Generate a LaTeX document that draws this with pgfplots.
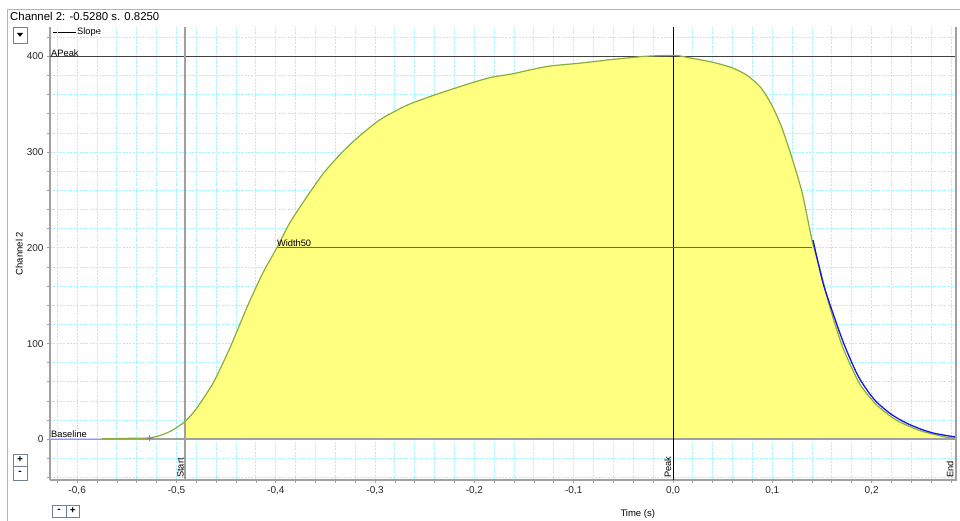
\documentclass[border=0pt]{standalone}
\usepackage{fontspec}
\setmainfont{Liberation Sans}
\usepackage{pgfplots}
\pgfplotsset{compat=1.18}
\definecolor{gridc}{HTML}{9EF6FF}
\definecolor{fillc}{HTML}{FFFF80}
\definecolor{curvec}{HTML}{88AE3A}
\definecolor{slopec}{HTML}{1414E6}
\definecolor{axc}{HTML}{A0A0A0}
\definecolor{btnc}{HTML}{6F8296}
\begin{document}
\begin{tikzpicture}[x=1pt,y=1pt]
\useasboundingbox (0,0) rectangle (960,521);
% window frame
\draw[color=axc!80, line width=1pt] (7.5,0) -- (7.5,511) -- (960,511);
\node[anchor=base west, inner sep=0pt, font=\fontsize{11.4}{13}\selectfont] at (10,500) {Channel 2: -0.5280 s. 0.8250};
% dropdown button
\draw[btnc, fill=white, line width=0.8pt] (13,478) rectangle (27,494);
\fill[black] (16.8,488.2) -- (23.2,488.2) -- (20,484.2) -- cycle;
% legend
\draw[black, line width=1pt] (53,488) -- (76,488);
\node[anchor=west, inner sep=0pt, font=\fontsize{9.3}{11}\selectfont] at (77,488.5) {Slope};
% left +/- buttons
\draw[btnc, fill=white, line width=0.8pt] (13,55) rectangle (27,67);
\draw[btnc, fill=white, line width=0.8pt] (13,41) rectangle (27,55);
\node[font=\fontsize{10}{12}\selectfont\bfseries, inner sep=0pt] at (20,61) {+};
\node[font=\fontsize{10}{12}\selectfont\bfseries, inner sep=0pt] at (20,48.5) {-};
% bottom -/+ buttons
\draw[btnc, fill=white, line width=0.8pt] (52,4) rectangle (66,16);
\draw[btnc, fill=white, line width=0.8pt] (66,4) rectangle (79.5,16);
\node[font=\fontsize{10}{12}\selectfont\bfseries, inner sep=0pt] at (59,10.5) {-};
\node[font=\fontsize{10}{12}\selectfont\bfseries, inner sep=0pt] at (72.8,10) {+};
\begin{axis}[
  at={(50pt,41pt)}, anchor=south west,
  scale only axis, width=907pt, height=453pt,
  xmin=-0.6274, xmax=0.2860, ymin=-42.5, ymax=430.8,
  axis x line*=bottom, axis y line*=left,
  axis line style={-, draw=axc, line width=2pt},
  xtick={-0.6,-0.5,-0.4,-0.3,-0.2,-0.1,0,0.1,0.2},
  ytick={0,100,200,300,400},
  minor xtick={-0.62,-0.60,-0.58,-0.56,-0.54,-0.52,-0.50,-0.48,-0.46,-0.44,-0.42,-0.40,-0.38,-0.36,-0.34,-0.32,-0.30,-0.28,-0.26,-0.24,-0.22,-0.20,-0.18,-0.16,-0.14,-0.12,-0.10,-0.08,-0.06,-0.04,-0.02,0,0.02,0.04,0.06,0.08,0.10,0.12,0.14,0.16,0.18,0.20,0.22,0.24,0.26,0.28},
  minor ytick={-40,-20,0,20,40,60,80,100,120,140,160,180,200,220,240,260,280,300,320,340,360,380,400,420},
  grid=both,
  major grid style={draw=gridc, line width=1pt, dash pattern=on 2pt off 1.3pt},
  minor grid style={draw=gridc, line width=1pt, dash pattern=on 2pt off 1.3pt},
  tick align=outside,
  major tick length=3pt, minor tick length=3pt,
  tick style={draw=axc, line width=0.8pt},
  /pgf/number format/assume math mode=true,
  tick label style={font=\fontsize{10}{12}\selectfont, color=black!85},
  xticklabel style={/pgf/number format/.cd, fixed, fixed zerofill, precision=1, use comma, assume math mode=true},
  yticklabel style={/pgf/number format/.cd, fixed, precision=0, assume math mode=true},
  xlabel={Time (s)},
  ylabel={Channel 2},
  label style={font=\fontsize{9.5}{11}\selectfont},
  xlabel style={at={(axis description cs:0.648,-0.075)}, anchor=center},
  ylabel style={at={(axis description cs:-0.034,0.5)}, anchor=center},
  clip=false,
]
% yellow area between Start and End
\addplot[draw=none, fill=fillc] coordinates {
 (-0.491,0) (-0.491,19.5) (-0.480,32) (-0.463,59) (-0.446,96) (-0.429,138)
 (-0.413,174) (-0.399,200) (-0.386,226) (-0.369,253) (-0.352,278) (-0.335,298)
 (-0.319,314) (-0.295,334) (-0.268,349) (-0.245,358) (-0.225,365) (-0.204,372)
 (-0.184,378) (-0.161,382) (-0.144,386) (-0.124,390) (-0.094,393) (-0.060,397)
 (-0.030,400) (-0.010,401) (0.004,401) (0.017,398.5) (0.040,394) (0.060,388)
 (0.075,380) (0.088,368) (0.098,352) (0.108,330) (0.118,300) (0.130,258) (0.140,208)
 (0.148,178) (0.158,138) (0.171,96) (0.188,58) (0.205,36) (0.225,20)
 (0.249,9) (0.276,2) (0.284,1.5) (0.284,0)} -- cycle;
% reference lines
\addplot[draw=axc, line width=2pt, forget plot] coordinates {(-0.6274,0) (0.2860,0)};
\addplot[draw=black!75, line width=1pt] coordinates {(-0.6274,400) (0.2860,400)};
\addplot[draw=axc, line width=2pt] coordinates {(-0.491,-42.5) (-0.491,430.8)};
\addplot[draw=black, line width=0.9pt] coordinates {(0,-42.5) (0,430.8)};
\addplot[draw=axc, line width=2pt] coordinates {(0.2845,-42.5) (0.2845,430.8)};
\addplot[draw=black!60, line width=1.2pt] coordinates {(-0.399,200) (0.140,200)};
% baseline segment before the rise
\addplot[draw=blue!20, line width=1.2pt] coordinates {(-0.6274,0.5) (-0.575,0.5)};
% signal
\addplot[draw=curvec, line width=1.2pt, smooth, tension=0.4] coordinates {
 (-0.575,0.5) (-0.56,0.8) (-0.545,1.1) (-0.527,1.5) (-0.515,4.5) (-0.505,9)
 (-0.496,15) (-0.490,20) (-0.480,32) (-0.463,59) (-0.446,96) (-0.429,138)
 (-0.413,174) (-0.399,200) (-0.386,226) (-0.369,253) (-0.352,278) (-0.335,298)
 (-0.319,314) (-0.295,334) (-0.268,349) (-0.245,358) (-0.225,365) (-0.204,372)
 (-0.184,378) (-0.161,382) (-0.144,386) (-0.124,390) (-0.094,393) (-0.060,397)
 (-0.030,400) (-0.010,401) (0.004,401) (0.017,398.5) (0.040,394) (0.060,388)
 (0.075,380) (0.088,368) (0.098,352) (0.108,330) (0.118,300) (0.130,258) (0.140,208)
 (0.148,178) (0.158,138) (0.171,96) (0.188,58) (0.205,36) (0.225,20)
 (0.249,9) (0.276,2) (0.284,1.5)};
\addplot[only marks, mark=+, mark size=3pt, draw=gray] coordinates {(-0.527,1.5)};
% slope fit
\addplot[draw=slopec, line width=1.3pt, smooth, tension=0.5] coordinates {
 (0.141,208) (0.146,185) (0.152,160) (0.161,132) (0.172,100) (0.185,69)
 (0.195,52) (0.205,39) (0.220,26) (0.235,17) (0.250,10.5) (0.262,6.6)
 (0.275,4) (0.284,2.5)};
% annotations
\node[anchor=south west, inner sep=0pt, font=\fontsize{9.3}{11}\selectfont] at (axis cs:-0.6274,400) {\hspace{1pt}APeak};
\node[anchor=south west, inner sep=0pt, font=\fontsize{9.3}{11}\selectfont] at (axis cs:-0.6274,1.5) {\hspace{1pt}Baseline};
\node[anchor=south west, inner sep=0pt, font=\fontsize{9.3}{11}\selectfont] at (axis cs:-0.399,201) {Width50};
\node[rotate=90, anchor=south west, inner sep=0pt, font=\fontsize{9.3}{11}\selectfont] at (axis cs:-0.4925,-40.5) {Start};
\node[rotate=90, anchor=south west, inner sep=0pt, font=\fontsize{9.3}{11}\selectfont] at (axis cs:-0.0015,-40.5) {Peak};
\node[rotate=90, anchor=south west, inner sep=0pt, font=\fontsize{9.3}{11}\selectfont] at (axis cs:0.2825,-40.5) {End};
\end{axis}
\end{tikzpicture}
\end{document}
